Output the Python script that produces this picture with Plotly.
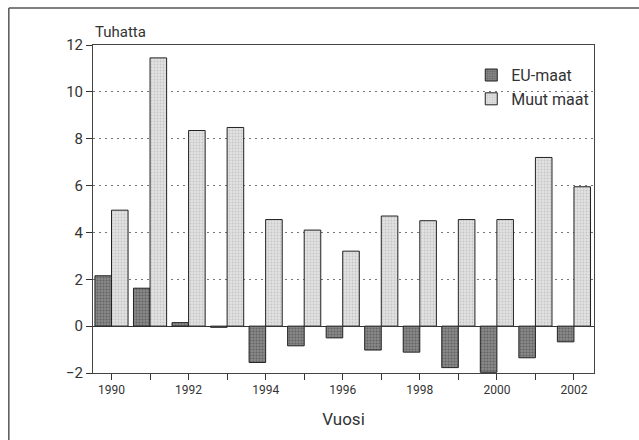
import plotly.graph_objects as go

years = list(range(1990, 2003))
eu_maat = [2.15, 1.62, 0.15, -0.05, -1.55, -0.84, -0.5, -1.02, -1.11, -1.77, -1.97, -1.35, -0.67]
muut_maat = [4.95, 11.45, 8.35, 8.48, 4.55, 4.1, 3.2, 4.7, 4.5, 4.55, 4.55, 7.2, 5.95]
tick_labels = [str(y) if y % 2 == 0 else "" for y in years]

FONT = "Roboto, Liberation Sans, sans-serif"
TXT = "#333333"

fig = go.Figure()
fig.add_trace(go.Bar(
    x=years, y=eu_maat, name="EU-maat",
    marker=dict(color="#6e6e6e", line=dict(color="#222222", width=1),
                pattern=dict(shape=".", fgcolor="#3a3a3a", bgcolor="#8a8a8a", size=3, solidity=0.4)),
))
fig.add_trace(go.Bar(
    x=years, y=muut_maat, name="Muut maat",
    marker=dict(color="#d2d2d2", line=dict(color="#222222", width=1),
                pattern=dict(shape=".", fgcolor="#a8a8a8", bgcolor="#e2e2e2", size=3, solidity=0.3)),
))

fig.update_layout(
    width=639, height=440,
    margin=dict(l=93, r=45, t=45, b=67),
    paper_bgcolor="white", plot_bgcolor="white",
    barmode="group", bargap=0.14, bargroupgap=0,
    font=dict(family=FONT, color=TXT, size=14),
    showlegend=True,
    legend=dict(x=0.755, y=0.96, xanchor="left", yanchor="top",
                bgcolor="rgba(0,0,0,0)", font=dict(size=16, family=FONT, color=TXT),
                itemwidth=30, tracegroupgap=2),
    xaxis=dict(
        range=[1989.52, 2002.52], tickvals=years, ticktext=tick_labels,
        ticks="outside", ticklen=6, tickcolor="#333", tickwidth=1,
        showline=True, linecolor="#444", linewidth=1, mirror=True,
        showgrid=False, zeroline=False,
        tickfont=dict(size=12, family=FONT, color=TXT),
        title=dict(text="Vuosi", font=dict(size=17, family=FONT, color=TXT), standoff=16),
    ),
    yaxis=dict(
        range=[-2, 12], tickvals=[-2, 0, 2, 4, 6, 8, 10, 12],
        ticks="outside", ticklen=6, tickcolor="#333", tickwidth=1,
        showline=True, linecolor="#444", linewidth=1, mirror=True,
        showgrid=True, gridcolor="#777777", griddash="2px,4px", gridwidth=1,
        zeroline=True, zerolinecolor="#333333", zerolinewidth=1,
        tickfont=dict(size=15, family=FONT, color=TXT),
    ),
    annotations=[dict(text="Tuhatta", xref="paper", yref="paper", x=0.0, y=1.0,
                      xanchor="left", yanchor="bottom", yshift=2, showarrow=False,
                      font=dict(size=15, family=FONT, color=TXT))],
    shapes=[
        dict(type="line", xref="paper", yref="paper", x0=-0.168, x1=1.1, y0=1.113, y1=1.113,
             line=dict(color="#555555", width=1.5)),
        dict(type="line", xref="paper", yref="paper", x0=-0.168, x1=-0.168, y0=1.113, y1=-0.21,
             line=dict(color="#555555", width=1.5)),
    ],
)

fig.write_html("out.html", config={"displayModeBar": False},
               post_script="document.body.style.margin='0';")
